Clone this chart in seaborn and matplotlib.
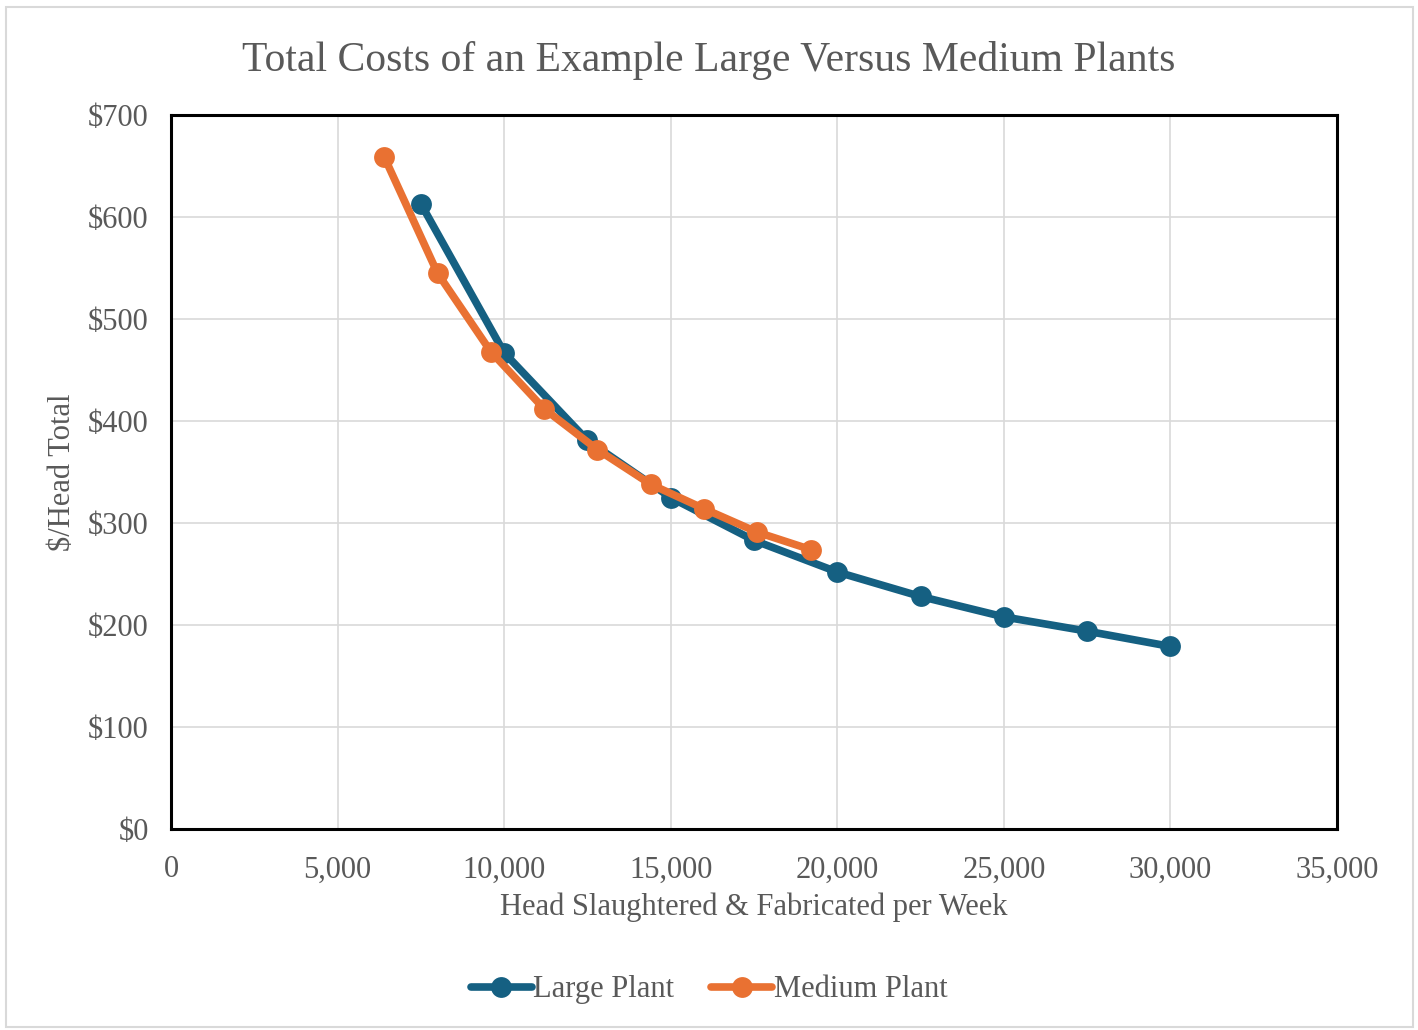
import matplotlib
matplotlib.use("Agg")
import matplotlib.pyplot as plt
import matplotlib.ticker as mticker
from matplotlib.patches import Rectangle
import seaborn as sns
import pandas as pd

# Cost per head by weekly throughput
large_head = [7500, 10000, 12500, 15000, 17500, 20000, 22500, 25000, 27500, 30000]
large_cost = [613, 467, 381, 325, 283, 252, 228, 208, 194, 179]
medium_head = [6400, 8000, 9600, 11200, 12800, 14400, 16000, 17600, 19200]
medium_cost = [659, 545, 468, 412, 372, 338, 314, 291, 274]
series_names = ["Large Plant", "Medium Plant"]

df = pd.concat([
    pd.DataFrame({"head": large_head, "cost": large_cost, "plant": series_names[0]}),
    pd.DataFrame({"head": medium_head, "cost": medium_cost, "plant": series_names[1]}),
])

sns.set_style("white")
plt.rcParams["font.family"] = ["Liberation Serif", "DejaVu Serif"]
text_color = "#595959"

fig = plt.figure(figsize=(14.18, 10.30), dpi=100)
ax = fig.add_axes([0.1206, 0.1951, 0.8223, 0.6932])

palette = {"Large Plant": "#156082", "Medium Plant": "#E97132"}
sns.lineplot(data=df, x="head", y="cost", hue="plant", palette=palette,
             marker="o", markersize=15, markeredgewidth=0, linewidth=5.5,
             sort=False, ax=ax, zorder=3)

ax.set_xlim(0, 35000)
ax.set_ylim(0, 700)
ax.xaxis.set_major_locator(mticker.MultipleLocator(5000))
ax.yaxis.set_major_locator(mticker.MultipleLocator(100))
ax.xaxis.set_major_formatter(mticker.FuncFormatter(lambda v, p: f"{int(v):,}"))
ax.yaxis.set_major_formatter(mticker.FuncFormatter(lambda v, p: f"${int(v)}"))
ax.grid(True, color="#D9D9D9", linewidth=1.2)
ax.set_axisbelow(True)
for s in ax.spines.values():
    s.set_color("black")
    s.set_linewidth(2.2)
ax.tick_params(axis="both", length=0, labelsize=22, labelcolor=text_color)
ax.tick_params(axis="x", pad=19)
ax.tick_params(axis="y", pad=16)

ax.set_xlabel("Head Slaughtered & Fabricated per Week", fontsize=22, color=text_color, labelpad=6)
ax.set_ylabel("$/Head Total", fontsize=22, color=text_color, labelpad=8)

fig.text(0.5, 0.941, "Total Costs of an Example Large Versus Medium Plants",
         fontsize=30, color=text_color, ha="center", va="center")

handles, labels = ax.get_legend_handles_labels()
ax.legend_.remove()
fig.legend(handles, labels, loc="center", bbox_to_anchor=(0.5, 0.039), ncol=2,
           frameon=False, fontsize=22, labelcolor=text_color,
           handlelength=2.0, handletextpad=0.05, columnspacing=1.2)

fig.patches.append(Rectangle((0.0045, 0.003), 0.992, 0.99, transform=fig.transFigure,
                             fill=False, edgecolor="#D9D9D9", linewidth=1.5))

fig.savefig("out.png", dpi=100, facecolor="white")
